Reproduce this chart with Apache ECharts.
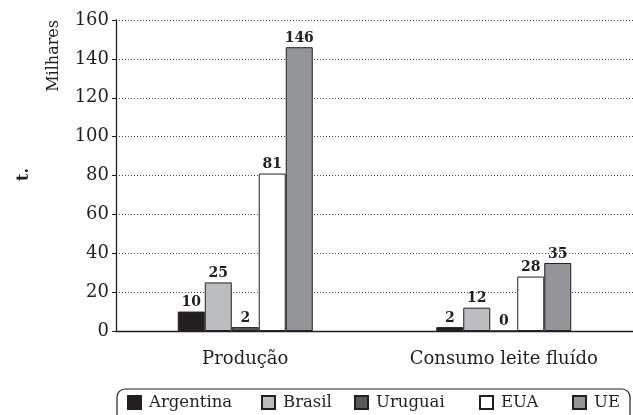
<!DOCTYPE html>
<html><head><meta charset="utf-8">
<script src="https://cdn.jsdelivr.net/npm/echarts@6/dist/echarts.min.js"></script>
<style>html,body{margin:0;padding:0;background:#fff}#c{width:633px;height:415px}</style>
</head><body><div id="c"></div>
<script>
const categories = ['Produção', 'Consumo leite fluído'];
const seriesNames = ['Argentina', 'Brasil', 'Uruguai', 'EUA', 'UE'];
const argentina = [10, 2];
const brasil = [25, 12];
const uruguai = [2, 0];
const eua = [81, 28];
const ue = [146, 35];
const yTicks = [0, 20, 40, 60, 80, 100, 120, 140, 160];

const values = [argentina, brasil, uruguai, eua, ue];
const colors = ['#231f20', '#bcbdc0', '#58595b', '#ffffff', '#939598'];
const legendLeft = [127, 261, 354, 479, 572];
const font = 'DejaVu Serif';

const chart = echarts.init(document.getElementById('c'));
chart.setOption({
  animation: false,
  backgroundColor: '#fff',
  grid: { left: 116, right: -6, top: 20, bottom: 84 },
  xAxis: {
    type: 'category', data: categories,
    axisLine: { lineStyle: { color: '#231f20', width: 1.3 } },
    axisTick: { show: false },
    axisLabel: { color: '#231f20', fontFamily: font, fontSize: 18, margin: 19 }
  },
  yAxis: {
    type: 'value', min: yTicks[0], max: yTicks[yTicks.length - 1], interval: 20,
    axisLine: { show: true, lineStyle: { color: '#231f20', width: 1.3 } },
    axisTick: { show: true, length: 4, lineStyle: { color: '#231f20' } },
    axisLabel: { color: '#231f20', fontFamily: font, fontSize: 18, margin: 7 },
    splitLine: { lineStyle: { color: '#444', type: [1, 2], width: 1 } }
  },
  legend: seriesNames.map((n, i) => ({
    data: [{ name: n, icon: 'rect' }], left: legendLeft[i], top: 394, itemWidth: 13, itemHeight: 13, itemGap: 0,
    padding: 0,
    textStyle: { fontFamily: font, fontSize: 16.5, color: '#231f20', padding: [0, 0, 0, 3] }
  })),
  series: seriesNames.map((n, i) => ({
    name: n, type: 'bar', data: values[i], barWidth: 27, barGap: '0%',
    itemStyle: { color: colors[i], borderColor: '#231f20', borderWidth: 1 },
    label: { show: true, position: 'top', distance: 2, fontFamily: font, fontWeight: 'bold', fontSize: 14, color: '#231f20' }
  })),
  graphic: [
    { type: 'text', left: 46, top: 20, rotation: Math.PI / 2,
      style: { text: 'Milhares', font: '16px "DejaVu Serif"', fill: '#231f20' } },
    { type: 'text', left: 16, top: 168, rotation: Math.PI / 2,
      style: { text: 't.', font: 'bold 16px "DejaVu Serif"', fill: '#231f20' } },
    { type: 'rect', shape: { x: 117, y: 389, width: 513, height: 60, r: 8 },
      style: { fill: 'none', stroke: '#231f20', lineWidth: 1.2 } }
  ]
});
</script></body></html>
